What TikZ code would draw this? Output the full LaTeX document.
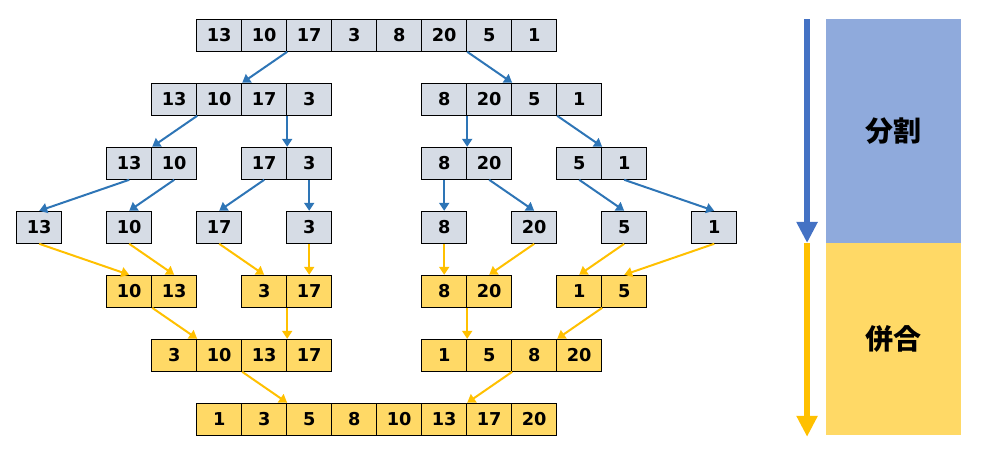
\documentclass[tikz,border=0pt]{standalone}
\usepackage{fontspec}
\setmainfont{DejaVu Sans}
\newfontfamily\jpfont{Noto Sans CJK JP}
\usepackage{tikz}
\usetikzlibrary{arrows.meta}
\usepackage{xcolor}
\definecolor{cellgrey}{RGB}{214, 220, 229}
\definecolor{cellgold}{RGB}{255, 217, 102}
\definecolor{splitblue}{RGB}{46, 117, 182}
\definecolor{mergegold}{RGB}{255, 192, 0}
\definecolor{panelblue}{RGB}{143, 170, 220}
\definecolor{bigblue}{RGB}{68, 114, 196}

\begin{document}
\begin{tikzpicture}[
    x=0.75pt, y=-0.75pt,
    cell/.style={draw=black, line width=0.75pt, minimum width=33.75pt,
                 minimum height=24pt, inner sep=0pt,
                 font=\bfseries\fontsize{13.3}{15}\selectfont},
    splitcell/.style={cell, fill=cellgrey},
    mergecell/.style={cell, fill=cellgold},
    splitarrow/.style={-{Triangle[length=6pt, width=7.5pt]}, line width=1.5pt,
                       splitblue},
    mergearrow/.style={-{Triangle[length=6pt, width=7.5pt]}, line width=1.5pt,
                       mergegold},
    panel/.style={minimum width=101.25pt, inner sep=0pt,
                  font=\jpfont\bfseries\fontsize{21}{24}\selectfont},
    bigarrow/.style={-{Triangle[length=15.75pt, width=15pt]}, line width=5pt},
  ]
  \useasboundingbox (0,0) rectangle (981,457);

  % split side
  \foreach \g/\x/\y/\vals in {
      a/196.7/35.3/{13,10,17,3,8,20,5,1},
      b1/151.7/99.3/{13,10,17,3}, b2/421.7/99.3/{8,20,5,1},
      c1/106.7/163.3/{13,10}, c2/241.7/163.3/{17,3},
      c3/421.7/163.3/{8,20}, c4/556.7/163.3/{5,1},
      d1/16.7/227.3/{13}, d2/106.7/227.3/{10}, d3/196.7/227.3/{17},
      d4/286.7/227.3/{3}, d5/421.7/227.3/{8}, d6/511.7/227.3/{20},
      d7/601.7/227.3/{5}, d8/691.7/227.3/{1}}
    \foreach \v [count=\i] in \vals
      \node[splitcell] (\g-\i) at ({\x+22.5+45*(\i-1)},\y) {\v};

  % merge side
  \foreach \g/\x/\y/\vals in {
      e1/106.7/291.3/{10,13}, e2/241.7/291.3/{3,17},
      e3/421.7/291.3/{8,20}, e4/556.7/291.3/{1,5},
      f1/151.7/355.3/{3,10,13,17}, f2/421.7/355.3/{1,5,8,20},
      g/196.7/419.3/{1,3,5,8,10,13,17,20}}
    \foreach \v [count=\i] in \vals
      \node[mergecell] (\g-\i) at ({\x+22.5+45*(\i-1)},\y) {\v};

  \foreach \src/\dst in {a-2/b1-2, a-6/b2-2, b1-1/c1-1, b1-3/c2-1,
                         b2-1/c3-1, b2-3/c4-1}
    \draw[splitarrow] (\src.south east) -- (\dst.north east);
  \foreach \src/\dst in {c1-1/d1-1, c1-2/d2-1, c2-1/d3-1, c2-2/d4-1,
                         c3-1/d5-1, c3-2/d6-1, c4-1/d7-1, c4-2/d8-1}
    \draw[splitarrow] (\src.south) -- (\dst.north);

  \foreach \src/\dst in {d1-1/e1-1, d2-1/e1-2, d3-1/e2-1, d4-1/e2-2,
                         d5-1/e3-1, d6-1/e3-2, d7-1/e4-1, d8-1/e4-2}
    \draw[mergearrow] (\src.south) -- (\dst.north);
  \foreach \src/\dst in {e1-1/f1-1, e2-1/f1-3, e3-1/f2-1, e4-1/f2-3,
                         f1-2/g-2, f2-2/g-6}
    \draw[mergearrow] (\src.south east) -- (\dst.north east);

  % phase panels
  \node[panel, fill=panelblue, minimum height=167.55pt] (split) at (893.5,131)
    {分割};
  \node[panel, fill=cellgold, minimum height=144.2pt] (merge) at (893.5,338.85)
    {併合};
  \draw[bigarrow, bigblue] ([xshift=-14pt]split.north west)
    -- ([xshift=-14pt]split.south west);
  \draw[bigarrow, mergegold] ([xshift=-14pt, yshift=-0.5pt]merge.north west)
    -- ([xshift=-14pt, yshift=-1.2pt]merge.south west);
\end{tikzpicture}
\end{document}
